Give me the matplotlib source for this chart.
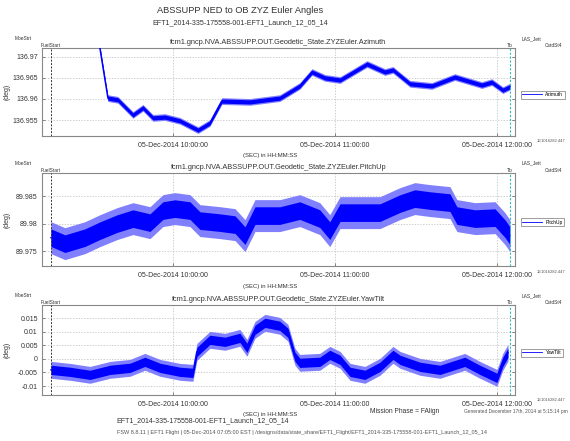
import matplotlib
matplotlib.use("Agg")
import matplotlib.pyplot as plt
import numpy as np
from matplotlib.ticker import FormatStrFormatter

plt.rcParams["font.family"] = ["Liberation Sans", "DejaVu Sans"]

# time in minutes relative to 05-Dec-2014 10:00:00
az_t = [-27.8, -24.1, -20.4, -14.8, -11.1, -7.4, -3.0, 2.6, 9.3, 13.7, 18.1, 28.5,
        39.6, 47.0, 51.5, 56.3, 61.9, 71.9, 78.5, 81.5, 87.8, 95.9, 104.4, 114.4,
        118.1, 122.2, 124.8]
az_v = [136.9750, 136.9602, 136.9598, 136.9562, 136.9579, 136.9555, 136.9557, 136.9548,
        136.9526, 136.9543, 136.9595, 136.9593, 136.9602, 136.9631, 136.9664, 136.9650,
        136.9645, 136.9683, 136.9664, 136.9669, 136.9636, 136.9631, 136.9652, 136.9633,
        136.9640, 136.9621, 136.9629]

pu_t = [-45.2, -40.0, -32.6, -27.0, -20.7, -14.8, -8.5, -3.7, 0.7, 6.3, 10.0, 17.4,
        23.0, 26.7, 30.4, 39.6, 47.0, 54.4, 58.1, 61.9, 76.7, 84.1, 89.6, 95.2, 102.6,
        105.2, 111.9, 119.3, 123.0, 124.8]
pu_v = [89.97745, 89.97636, 89.97745, 89.97873, 89.98000, 89.98091, 89.98018, 89.98237,
        89.98273, 89.98237, 89.98055, 89.98018, 89.97982, 89.97782, 89.98146, 89.98146,
        89.98237, 89.98091, 89.97873, 89.98200, 89.98200, 89.98364, 89.98455, 89.98419,
        89.98382, 89.98146, 89.98091, 89.98109, 89.97909, 89.97782]

vt_t = [-45.2, -38.1, -30.7, -23.3, -15.9, -10.4, -4.8, 2.6, 7.4, 8.9, 13.7, 19.3,
        24.8, 27.4, 30.4, 34.1, 39.6, 42.6, 45.2, 47.0, 54.4, 58.1, 61.9, 65.6, 71.1,
        76.7, 81.5, 84.1, 91.5, 98.9, 108.1, 113.7, 120.0, 122.2, 124.1]
vt_v = [-0.00405, -0.00478, -0.00589, -0.00405, -0.00331, -0.00110, -0.00331, -0.00478,
        -0.00515, 0.00258, 0.00699, 0.00626, 0.00773, 0.00405, 0.01067, 0.01325, 0.01214,
        0.00957, 0.00074, -0.00147, -0.00110, 0.00147, -0.00037, -0.00478, -0.00589,
        -0.00294, 0.00147, -0.00037, -0.00294, -0.00405, -0.00110, -0.00405, -0.00699,
        -0.00110, 0.00221]

# title, times, values, core half-width, spread half-width, ylim, yticks, legend
panels = [
    ("fcm1.gncp.NVA.ABSSUPP.OUT.Geodetic_State.ZYZEuler.Azimuth", az_t, az_v,
     0.0005, 0.0008, (136.9512, 136.9721), [136.955, 136.96, 136.965, 136.97], "Azimuth"),
    ("fcm1.gncp.NVA.ABSSUPP.OUT.Geodetic_State.ZYZEuler.PitchUp", pu_t, pu_v,
     0.0016, 0.0029, (89.9723, 89.9892), [89.975, 89.98, 89.985], "PitchUp"),
    ("fcm1.gncp.NVA.ABSSUPP.OUT.Geodetic_State.ZYZEuler.YawTilt", vt_t, vt_v,
     0.0017, 0.0031, (-0.0133, 0.0198), [-0.01, -0.005, 0, 0.005, 0.01, 0.015], "YawTilt"),
]

hour_ticks = [0, 60, 120]
hour_labels = ["05-Dec-2014 10:00:00", "05-Dec-2014 11:00:00", "05-Dec-2014 12:00:00"]
xlim = (-48.5, 126.7)
fuel_start = -45.2
tb_line = 124.8

fig = plt.figure(figsize=(5.7, 4.41), dpi=100)
fig.text(0.422, 0.977, "ABSSUPP NED to OB ZYZ Euler Angles", ha="center", va="center",
         fontsize=6.7, color="#333333")
fig.text(0.422, 0.948, "EFT1_2014-335-175558-001-EFT1_Launch_12_05_14", ha="center",
         va="center", fontsize=5.1, color="#333333")

rects = [[0.0737, 0.6916, 0.8298, 0.1995],
         [0.0737, 0.3968, 0.8298, 0.2109],
         [0.0737, 0.1043, 0.8298, 0.2041]]

for rect, (title, t, v, w1, w2, ylim, yt, leg) in zip(rects, panels):
    ax = fig.add_axes(rect)
    t = np.array(t)
    v = np.array(v)
    ax.fill_between(t, v - w2, v + w2, color=(0.5, 0.5, 1.0), lw=0, zorder=2)
    ax.fill_between(t, v - w1, v + w1, color=(0, 0, 1), lw=0, zorder=3)
    ax.plot(t, v, color=(0, 0, 1), lw=1.0, zorder=4)
    ax.set_xlim(*xlim)
    ax.set_ylim(*ylim)
    ax.set_yticks(yt)
    ax.yaxis.set_major_formatter(FormatStrFormatter("%g"))
    ax.set_xticks(hour_ticks)
    ax.set_xticklabels(hour_labels)
    ax.tick_params(labelsize=5.0, length=2, width=0.4, right=True, direction="in",
                   colors="#333333", pad=3)
    ax.tick_params(axis="x", pad=4.5)
    ax.grid(True, color="#bbbbbb", ls=(0, (2, 2)), lw=0.5)
    for s in ax.spines.values():
        s.set_color("#888888")
        s.set_linewidth(0.8)
    ax.axvline(fuel_start, color="#333333", ls=(0, (2, 1.5)), lw=0.7, zorder=5)
    ax.axvline(tb_line, color="#33bbbb", ls=(0, (2, 1.5)), lw=0.8, zorder=5)
    ax.set_title(title, fontsize=5.3, color="#333333", pad=3)
    ax.set_ylabel("(deg)", fontsize=5.0, color="#333333")
    ax.yaxis.set_label_coords(-0.066, 0.5)
    ax.set_xlabel("(SEC) in HH:MM:SS", fontsize=4.3, color="#333333")
    ax.xaxis.set_label_coords(0.482, -0.19)

    ax.text(-0.04, 1.09, "MoeStrt", transform=ax.transAxes, fontsize=3.5,
            color="#333333", ha="center")
    ax.text(fuel_start, ylim[1], "FuelStart", fontsize=3.5, color="#333333",
            ha="center", va="bottom")
    ax.text(tb_line, ylim[1], "Tb", fontsize=3.5, color="#333333", ha="center", va="bottom")
    ax.text(1.034, 1.09, "LAS_Jett", transform=ax.transAxes, fontsize=3.5,
            color="#333333", ha="center")
    ax.text(1.063, 1.01, "CstdSt4", transform=ax.transAxes, fontsize=3.5,
            color="#333333", ha="left")
    ax.text(1.045, -0.07, "1E1016282.447", transform=ax.transAxes, fontsize=3.0,
            color="#555555", ha="left")
    box = ax.legend([plt.Line2D([], [], color=(0, 0, 1), lw=0.6)], [leg],
                    loc="center left", bbox_to_anchor=(1.012, 0.47), fontsize=3.5,
                    frameon=True, fancybox=False, handlelength=4, borderpad=0.3,
                    borderaxespad=0)
    box.get_frame().set_edgecolor("#555555")
    box.get_frame().set_linewidth(0.5)

fig.text(0.71, 0.066, "Mission Phase = FAlign", ha="center", va="center",
         fontsize=4.8, color="#333333")
fig.text(0.905, 0.066, "Generated December 17th, 2014 at 5:15:14 pm", ha="center",
         va="center", fontsize=3.5, color="#555555")
fig.text(0.356, 0.045, "EFT1_2014-335-175558-001-EFT1_Launch_12_05_14", ha="center",
         va="center", fontsize=5.0, color="#333333")
fig.text(0.53, 0.02,
         "FSW 8.8.11 | EFT1 Flight | 05-Dec-2014 07:05:00 EST | /designs/data/state_share/"
         "EFT1_Flight/EFT1_2014-335-175558-001-EFT1_Launch_12_05_14",
         ha="center", va="center", fontsize=4.0, color="#555555")

fig.savefig("out.png", dpi=100)
